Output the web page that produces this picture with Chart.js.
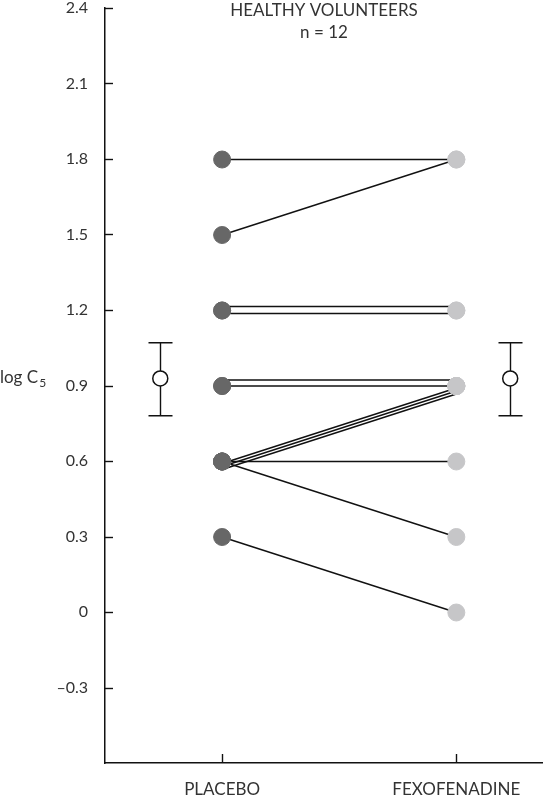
<!DOCTYPE html>
<html>
<head>
<meta charset="utf-8">
<script src="https://cdn.jsdelivr.net/npm/chart.js@4"></script>
<style>
  html, body { margin: 0; padding: 0; background: #fff; overflow: hidden; }
  #wrap { width: 543px; height: 797px; position: relative; }
</style>
</head>
<body>
<div id="wrap"><canvas id="chart"></canvas></div>
<script>
// Data
const groups = ["PLACEBO", "FEXOFENADINE"];
const placebo = [1.8, 1.5, 1.2, 1.2, 0.9, 0.9, 0.6, 0.6, 0.6, 0.6, 0.6, 0.3];
const fexofenadine = [1.8, 1.8, 1.2, 1.2, 0.9, 0.9, 0.9, 0.9, 0.9, 0.6, 0.3, 0.0];
const groupMeans = [0.93, 0.93];
const groupUpper = [1.07, 1.07];
const groupLower = [0.78, 0.78];
const yTickValues = [2.4, 2.1, 1.8, 1.5, 1.2, 0.9, 0.6, 0.3, 0, -0.3];
const yTickLabels = ["2.4", "2.1", "1.8", "1.5", "1.2", "0.9", "0.6", "0.3", "0", "\u20130.3"];

// Layout / style helpers (not data)
const meanX = [0.736, 2.23];
const lineOffsets = [0, 0, -4, 3, -6, 0, 2, 5, 8, 0, 0, 0]; // px, separates overlapping subjects
const textColor = "#333";
const fontFamily = "Lato, 'Open Sans', sans-serif";

const lineSets = placebo.map((p, i) => ({
  type: "line",
  data: [{ x: 1, y: p }, { x: 2, y: fexofenadine[i] }],
  borderColor: "#111",
  borderWidth: 1.4,
  pointRadius: 0,
  fill: false,
  order: 3,
  offsetY: lineOffsets[i],
}));

const datasets = [
  ...lineSets,
  {
    type: "scatter",
    data: placebo.map((v) => ({ x: 1, y: v })),
    backgroundColor: "#676767",
    borderColor: "#676767",
    pointRadius: 8.5,
    order: 2,
  },
  {
    type: "scatter",
    data: fexofenadine.map((v) => ({ x: 2, y: v })),
    backgroundColor: "#c6c6c8",
    borderColor: "#c6c6c8",
    pointRadius: 8.5,
    order: 2,
  },
  {
    type: "scatter",
    data: groupMeans.map((v, i) => ({ x: meanX[i], y: v })),
    backgroundColor: "#fff",
    borderColor: "#111",
    borderWidth: 1.5,
    pointRadius: 7.5,
    order: 1,
  },
];

// shift overlapping subject lines apart by a few pixels
const offsetPlugin = {
  id: "offsetLines",
  beforeDatasetDraw(chart, args) {
    const off = chart.data.datasets[args.index].offsetY || 0;
    chart.ctx.save();
    chart.ctx.translate(0, off + 0.5);
  },
  afterDatasetDraw(chart) {
    chart.ctx.restore();
  },
};

const decorPlugin = {
  id: "decor",
  beforeDatasetsDraw(chart) {
    const { ctx, chartArea, scales } = chart;
    const x = scales.x, y = scales.y;
    ctx.save();
    ctx.strokeStyle = "#111";
    ctx.lineWidth = 1.4;
    // inward ticks on y axis
    yTickValues.forEach((v) => {
      const py = Math.round(y.getPixelForValue(v)) + 0.5;
      ctx.beginPath();
      ctx.moveTo(chartArea.left, py);
      ctx.lineTo(chartArea.left + 8, py);
      ctx.stroke();
    });
    // inward ticks on x axis
    [1, 2].forEach((v) => {
      const px = Math.round(x.getPixelForValue(v)) + 0.5;
      ctx.beginPath();
      ctx.moveTo(px, chartArea.bottom);
      ctx.lineTo(px, chartArea.bottom - 9);
      ctx.stroke();
    });
    // error bars for group means
    groupMeans.forEach((m, i) => {
      const px = Math.round(x.getPixelForValue(meanX[i])) + 0.5;
      const top = y.getPixelForValue(groupUpper[i]);
      const bot = y.getPixelForValue(groupLower[i]);
      ctx.beginPath();
      ctx.moveTo(px, top);
      ctx.lineTo(px, bot);
      ctx.moveTo(px - 12, top);
      ctx.lineTo(px + 12, top);
      ctx.moveTo(px - 12, bot);
      ctx.lineTo(px + 12, bot);
      ctx.stroke();
    });
    ctx.restore();
  },
  afterDraw(chart) {
    const { ctx, chartArea, scales } = chart;
    ctx.save();
    ctx.fillStyle = textColor;
    ctx.textAlign = "center";
    ctx.textBaseline = "middle";
    ctx.font = `17px ${fontFamily}`;
    const cx = (chartArea.left + chartArea.right) / 2;
    ctx.fillText("HEALTHY VOLUNTEERS", cx, 11);
    ctx.fillText("n = 12", cx, 33);
    // y axis title with subscript
    const ty = scales.y.getPixelForValue(0.93);
    ctx.textAlign = "left";
    ctx.font = `17px ${fontFamily}`;
    ctx.fillText("log C", 0, ty);
    const w = ctx.measureText("log C").width;
    ctx.font = `12px ${fontFamily}`;
    ctx.fillText("5", w + 1, ty + 5);
    ctx.restore();
  },
};

new Chart(document.getElementById("chart"), {
  data: { datasets },
  options: {
    responsive: true,
    maintainAspectRatio: false,
    animation: false,
    layout: { autoPadding: false, padding: { top: 8, right: 0, left: 0, bottom: 0 } },
    plugins: {
      legend: { display: false },
      tooltip: { enabled: false },
    },
    scales: {
      x: {
        type: "linear",
        min: 0.5,
        max: 2.37,
        afterBuildTicks: (scale) => {
          scale.ticks = [{ value: 1 }, { value: 2 }];
        },
        afterFit: (scale) => {
          scale.height = 34;
          scale.paddingLeft = 0;
          scale.paddingRight = 0;
        },
        grid: { display: false, drawTicks: false },
        border: { display: true, color: "#111", width: 1.5 },
        ticks: {
          padding: 16,
          color: textColor,
          font: { family: fontFamily, size: 17 },
          callback: (value) => groups[Math.round(value) - 1] || "",
        },
      },
      y: {
        type: "linear",
        min: -0.6,
        max: 2.4,
        afterBuildTicks: (scale) => {
          scale.ticks = yTickValues.map((v) => ({ value: v }));
        },
        afterFit: (scale) => {
          scale.width = 105;
          scale.paddingTop = 0;
          scale.paddingBottom = 0;
        },
        grid: { display: false, drawTicks: false },
        border: { display: true, color: "#111", width: 1.5 },
        ticks: {
          padding: 17,
          color: textColor,
          font: { family: fontFamily, size: 16 },
          callback: (value) => {
            const idx = yTickValues.findIndex((v) => Math.abs(v - value) < 1e-6);
            return idx >= 0 ? yTickLabels[idx] : "";
          },
        },
      },
    },
  },
  plugins: [offsetPlugin, decorPlugin],
});
</script>
</body>
</html>
